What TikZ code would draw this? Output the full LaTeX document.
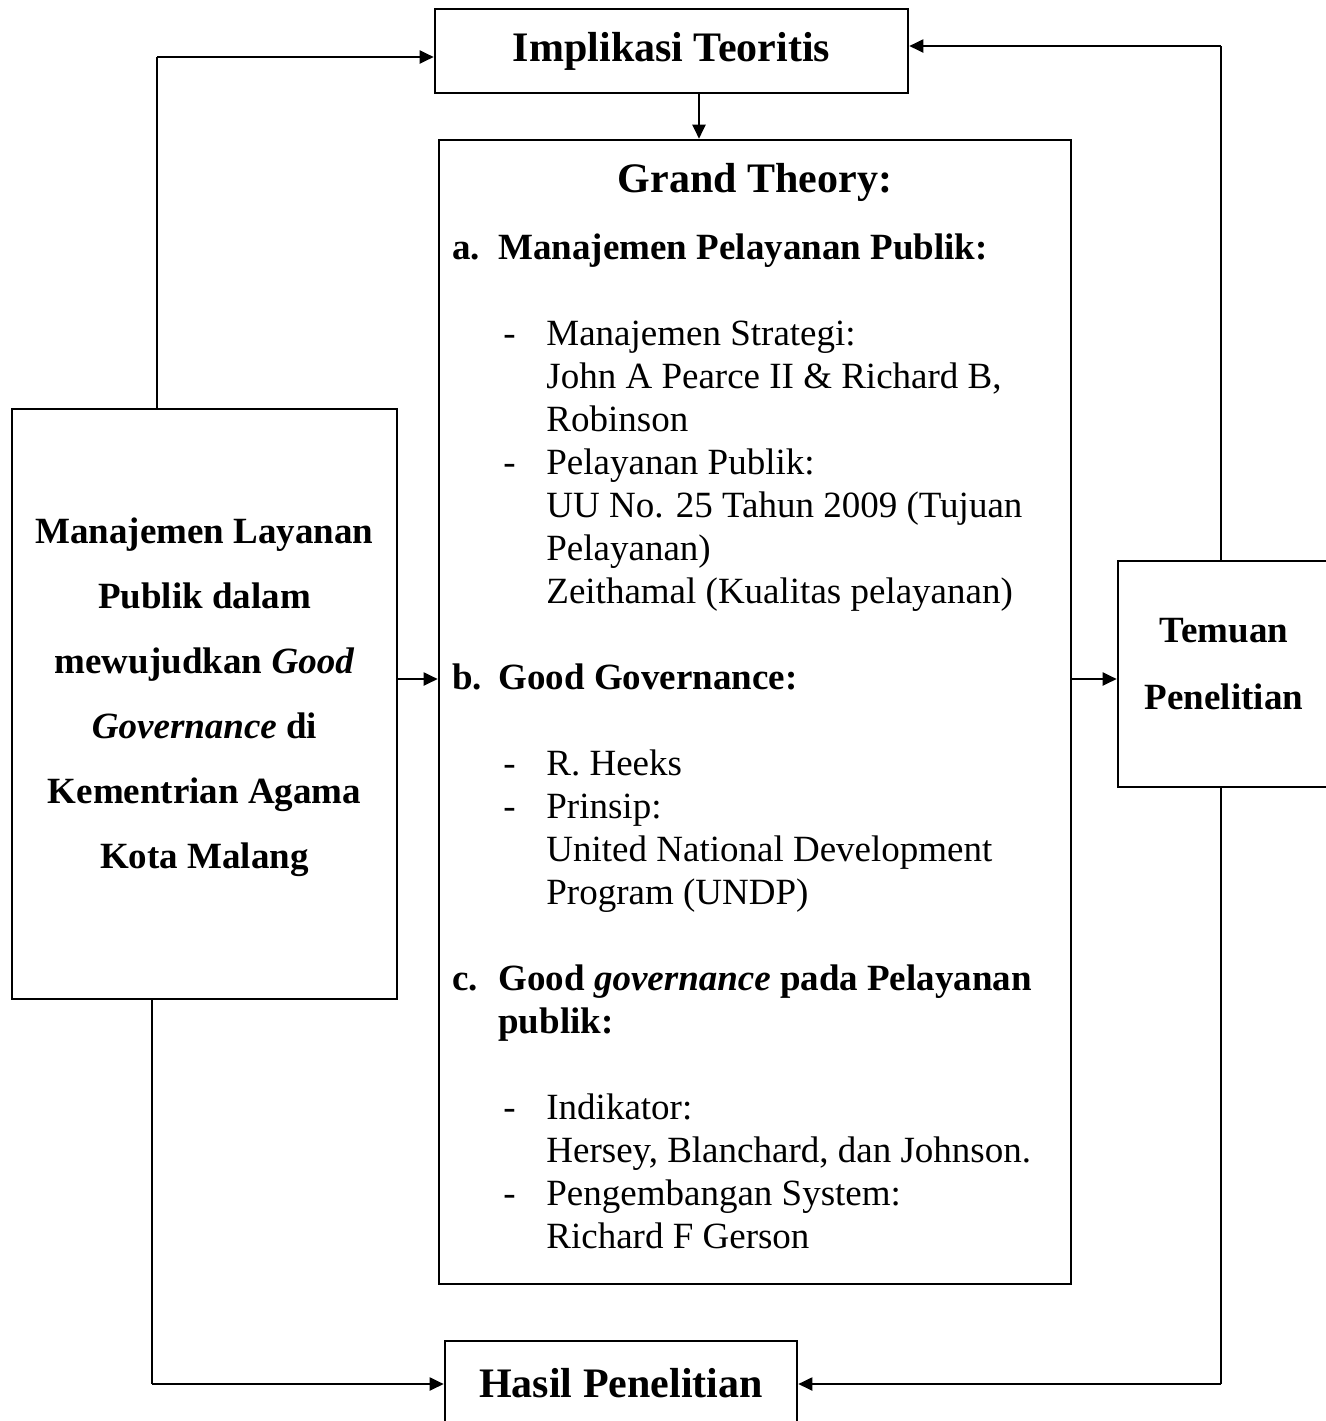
\documentclass[tikz,border=0pt]{standalone}
\usepackage{fontspec}
\setmainfont{Liberation Serif}
\usetikzlibrary{arrows.meta, positioning, calc}

\tikzset{
  kotak/.style={draw, line width=1.3pt, inner sep=0pt, font=\bfseries\fontsize{21}{25}\selectfont},
  garis/.style={line width=0.6pt},
  panah/.style={line width=1pt, -{Triangle[length=7pt, width=6.5pt]}},
}
\newcommand{\poin}[2]{\makebox[23pt][l]{#1}#2}
\newcommand{\butir}[1]{\hspace*{25.5pt}\makebox[21.5pt][l]{-}#1}
\newcommand{\lanjut}[1]{\hspace*{47pt}#1}

\begin{document}
\begin{tikzpicture}[x=0.5pt, y=-0.5pt]
  \useasboundingbox (0,0) rectangle (1326,1421);
  \clip (0,0) rectangle (1326,1421);

  % kotak utama
  \node[kotak, minimum width=236.5pt, minimum height=42pt] (impl) at (671.5,51) {Implikasi Teoritis};
  \node[kotak, minimum width=316pt, minimum height=572pt] (grand) at (755,712) {};
  \node[kotak, font=\bfseries\fontsize{18.5}{32.5}\selectfont, align=center, text depth=11pt,
        minimum width=192.5pt, minimum height=295pt] (kiri) at (204.5,704)
    {Manajemen Layanan\\Publik dalam\\mewujudkan \textit{Good}\\\textit{Governance} di\\Kementrian Agama\\Kota Malang};
  \node[kotak, font=\bfseries\fontsize{18.5}{33.5}\selectfont, align=center, text depth=10pt,
        minimum width=106pt, minimum height=113pt] (temuan) at (1224,674) {Temuan\\Penelitian};
  \node[kotak, minimum width=176pt, minimum height=42pt] (hasil) at (621,1383) {Hasil Penelitian};

  % isi grand theory
  \node[font=\bfseries\fontsize{21}{25}\selectfont, anchor=base, inner sep=0pt] (judul) at (755,192) {Grand Theory:};
  \node[font=\fontsize{18.5}{21.5}\selectfont, align=left, anchor=north west, inner sep=0pt] (isi) at (452,233)
    {\poin{\textbf{a.}}{\textbf{Manajemen Pelayanan Publik:}}\\[21.5pt]
     \butir{Manajemen Strategi:}\\
     \lanjut{John A Pearce II \& Richard B,}\\
     \lanjut{Robinson}\\
     \butir{Pelayanan Publik:}\\
     \lanjut{UU No. 25 Tahun 2009 (Tujuan}\\
     \lanjut{Pelayanan)}\\
     \lanjut{Zeithamal (Kualitas pelayanan)}\\[21.5pt]
     \poin{\textbf{b.}}{\textbf{Good Governance:}}\\[21.5pt]
     \butir{R. Heeks}\\
     \butir{Prinsip:}\\
     \lanjut{United National Development}\\
     \lanjut{Program (UNDP)}\\[21.5pt]
     \poin{\textbf{c.}}{\textbf{Good \textit{governance} pada Pelayanan}}\\
     \hspace*{23pt}\textbf{publik:}\\[21.5pt]
     \butir{Indikator:}\\
     \lanjut{Hersey, Blanchard, dan Johnson.}\\
     \butir{Pengembangan System:}\\
     \lanjut{Richard F Gerson}};

  % panah
  \coordinate (turun) at ($(impl.south)+(27.5,0)$);
  \draw[panah] (turun) -- (turun |- grand.north);
  \coordinate (s1) at (157,57);
  \draw[garis] (kiri.north -| s1) -- (s1);
  \draw[panah] (s1) -- (s1 -| impl.west);
  \coordinate (s2) at (1221,46);
  \draw[garis] (temuan.north -| s2) -- (s2);
  \draw[panah] (s2) -- (s2 -| impl.east);
  \coordinate (s3) at (152,1384);
  \draw[garis] (kiri.south -| s3) -- (s3);
  \draw[panah] (s3) -- (s3 -| hasil.west);
  \coordinate (s4) at (1221,1384);
  \draw[garis] (temuan.south -| s4) -- (s4);
  \draw[panah] (s4) -- (s4 -| hasil.east);
  \coordinate (s5) at (0,679);
  \draw[panah] (kiri.east |- s5) -- (grand.west |- s5);
  \draw[panah] (grand.east |- s5) -- (temuan.west |- s5);
\end{tikzpicture}
\end{document}
